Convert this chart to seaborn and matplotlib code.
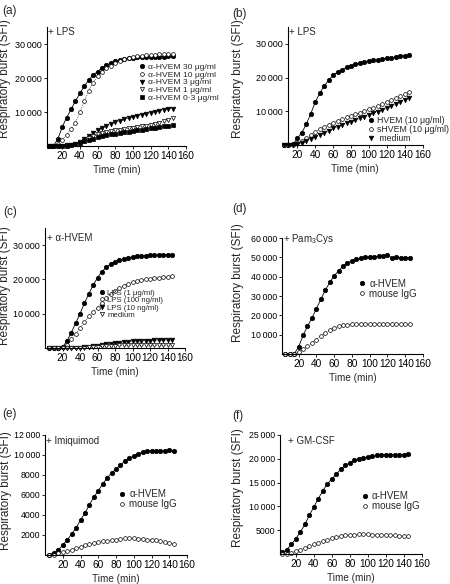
import matplotlib
matplotlib.use("Agg")
import matplotlib.pyplot as plt
import seaborn as sns
from matplotlib.ticker import FuncFormatter

# time points (min)
TIME = [5, 10, 15, 20, 25, 30, 35, 40, 45, 50, 55, 60, 65, 70, 75,
        80, 85, 90, 95, 100, 105, 110, 115, 120, 125, 130, 135, 140, 145]

# (a) + LPS, anti-HVEM titration
a_30 = [0, 0, 2000, 5600, 8300, 10800, 13200, 15500, 17600, 19400, 20900, 21900, 23000, 23800, 24400,
        24900, 25300, 25600, 25800, 26000, 26100, 26100, 26200, 26200, 26300, 26300, 26300, 26400, 26400]
a_10 = [0, 0, 500, 1800, 3300, 4900, 6900, 10000, 13200, 16200, 18600, 20600, 21900, 22800, 23600,
        24300, 25000, 25500, 25900, 26200, 26400, 26600, 26700, 26800, 26900, 27000, 27000, 27100, 27100]
a_3 = [0, 0, 0, 100, 200, 300, 700, 1300, 2100, 3000, 3900, 4700, 5400, 6000, 6500,
       7000, 7400, 7800, 8200, 8600, 8900, 9200, 9500, 9800, 10100, 10400, 10700, 10900, 11000]
a_1 = [0, 0, 0, 0, 100, 200, 500, 1000, 1600, 2300, 2900, 3400, 3800, 4100, 4400,
       4600, 4800, 5000, 5200, 5400, 5600, 5800, 6000, 6300, 6600, 6900, 7300, 7700, 8200]
a_03 = [0, 0, 0, 0, 100, 300, 600, 1000, 1400, 1800, 2200, 2600, 2900, 3200, 3400,
        3600, 3800, 4000, 4200, 4400, 4600, 4800, 5000, 5200, 5400, 5600, 5800, 6000, 6100]
a_labels = ["\u03b1-HVEM 30 \u03bcg/ml", "\u03b1-HVEM 10 \u03bcg/ml", "\u03b1-HVEM 3 \u03bcg/ml",
            "\u03b1-HVEM 1 \u03bcg/ml", "\u03b1-HVEM 0\u00b73 \u03bcg/ml"]

# (b) + LPS, HVEM vs sHVEM
b_hvem = [0, 0, 200, 2000, 3700, 6200, 9300, 12700, 15400, 17500, 19200, 20800, 21600, 22300, 23000,
          23500, 24000, 24300, 24600, 24900, 25100, 25300, 25500, 25700, 25900, 26100, 26300, 26500, 26700]
b_shvem = [0, 0, 0, 500, 1200, 2000, 3000, 3900, 4700, 5400, 6000, 6600, 7200, 7700, 8200,
           8700, 9200, 9600, 10100, 10600, 11100, 11600, 12100, 12700, 13300, 13900, 14500, 15000, 15600]
b_medium = [0, 0, 0, 200, 700, 1300, 1900, 2500, 3100, 3700, 4300, 4900, 5400, 5900, 6400,
            6900, 7400, 7900, 8400, 8900, 9400, 9900, 10500, 11000, 11600, 12200, 12800, 13300, 13900]
b_labels = ["HVEM (10 \u03bcg/ml)", "sHVEM (10 \u03bcg/ml)", " medium"]

# (c) + anti-HVEM, LPS titration
c_1ug = [0, 0, 100, 300, 2000, 4500, 7200, 10000, 13000, 15800, 18300, 20500, 22300, 23500, 24500,
         25200, 25700, 26000, 26300, 26500, 26700, 26800, 26900, 27000, 27000, 27100, 27100, 27200, 27200]
c_100ng = [0, 0, 0, 200, 1000, 2500, 4000, 5800, 7500, 9200, 10500, 11800, 13200, 14500, 15700,
           16700, 17500, 18200, 18800, 19200, 19500, 19800, 20000, 20200, 20400, 20500, 20700, 20800, 21000]
c_10ng = [0, 0, 0, 0, 0, 0, 0, 100, 200, 300, 500, 700, 900, 1100, 1300,
          1500, 1600, 1700, 1800, 1900, 2000, 2000, 2100, 2100, 2200, 2200, 2200, 2300, 2300]
c_medium = [0, 0, 0, 0, 0, 0, 0, 0, 100, 200, 300, 400, 500, 600, 700,
            700, 800, 800, 800, 800, 800, 800, 800, 800, 800, 800, 800, 800, 800]
c_labels = ["LPS (1 \u03bcg/ml)", "LPS (100 ng/ml)", "LPS (10 ng/ml)", "medium"]

# (d) + Pam3Cys
d_hvem = [0, 0, 0, 3700, 9600, 14300, 18700, 23500, 28200, 33000, 37000, 40500, 43000, 45500, 47000,
          48300, 49000, 49500, 50000, 50300, 50400, 50500, 50700, 51000, 49800, 50000, 49800, 49800, 49800]
d_igg = [0, 0, 0, 800, 2400, 4000, 5700, 7500, 9400, 10900, 12300, 13500, 14400, 14900, 15200,
         15400, 15500, 15600, 15600, 15600, 15600, 15600, 15700, 15700, 15600, 15600, 15500, 15400, 15300]

# (e) + Imiquimod
e_hvem = [50, 230, 500, 1000, 1500, 2100, 2700, 3500, 4200, 5000, 5800, 6400, 7100, 7700, 8200,
          8600, 9000, 9400, 9700, 9900, 10100, 10300, 10400, 10400, 10400, 10400, 10400, 10500, 10400]
e_igg = [0, 0, 200, 300, 400, 550, 700, 800, 1000, 1100, 1200, 1300, 1400, 1450, 1500,
         1550, 1600, 1700, 1700, 1700, 1650, 1600, 1550, 1500, 1500, 1400, 1300, 1250, 1100]

# (f) + GM-CSF
f_hvem = [350, 900, 2000, 3200, 4600, 6200, 8100, 9900, 11600, 13300, 14700, 15800, 16800, 17800, 18600,
          19200, 19700, 20000, 20200, 20400, 20600, 20700, 20800, 20800, 20900, 20900, 20900, 20900, 21000]
f_igg = [0, 100, 300, 600, 900, 1200, 1600, 2000, 2400, 2700, 3000, 3300, 3500, 3700, 3900,
         4000, 4050, 4100, 4100, 4100, 4050, 4000, 4000, 3950, 3900, 3900, 3850, 3800, 3700]
igg_labels = ["\u03b1-HVEM", "mouse IgG"]

X_TICKS = [20, 40, 60, 80, 100, 120, 140, 160]

sns.set_style("ticks")
plt.rcParams['font.family'] = ['Liberation Sans', 'DejaVu Sans']
plt.rcParams['mathtext.fontset'] = 'custom'
plt.rcParams['mathtext.rm'] = 'Liberation Sans'
plt.rcParams['mathtext.it'] = 'Liberation Sans'
plt.rcParams['axes.linewidth'] = 0.8
plt.rcParams['axes.edgecolor'] = 'black'

# marker styles
STY = {
    'fc': dict(marker='o', markersize=3.2, markerfacecolor='black', linestyle='-', linewidth=0.6),
    'oc': dict(marker='o', markersize=2.7, markerfacecolor='white', linestyle=':', linewidth=0.5),
    'ft': dict(marker='v', markersize=3.3, markerfacecolor='black', linestyle=':', linewidth=0.5),
    'ot': dict(marker='v', markersize=3.0, markerfacecolor='white', linestyle=':', linewidth=0.5),
    'fs': dict(marker='s', markersize=2.8, markerfacecolor='black', linestyle=':', linewidth=0.5),
}


def sfi_fmt(v, pos):
    n = int(round(v))
    if n >= 10000:
        return f"{n:,}".replace(",", "\u2009")
    return str(n)


def px_axes(fig, left, top, right, bottom):
    return fig.add_axes([left / 450, 1 - bottom / 584, (right - left) / 450, (bottom - top) / 584])


def draw_panel(ax, series, labels, styles, xlim, ylim, yticks, ytick_family, ytick_size,
               ylab_xy, tag, tag_xy, leg_xy, leg_size, leg_spacing):
    for vals, lab, st in zip(series, labels, styles):
        sns.lineplot(x=TIME, y=vals, ax=ax, color='black', markeredgecolor='black',
                     markeredgewidth=0.5, label=lab, clip_on=False, **STY[st])
    ax.set_xlim(*xlim)
    ax.set_ylim(*ylim)
    ax.set_xticks(X_TICKS)
    ax.set_yticks(yticks)
    ax.yaxis.set_major_formatter(FuncFormatter(sfi_fmt))
    ax.tick_params(direction='out', length=2, width=0.6, pad=1.5, colors='black')
    ax.tick_params(axis='x', labelsize=7.3)
    for t in ax.get_yticklabels():
        t.set_fontsize(ytick_size)
        t.set_family(ytick_family)
    sns.despine(ax=ax)
    ax.set_xlabel("Time (min)", fontsize=7.2, labelpad=3)
    ax.set_ylabel("Respiratory burst (SFI)", fontsize=8.5)
    ax.yaxis.set_label_coords(*ylab_xy)
    ax.text(tag_xy[0], tag_xy[1], tag, transform=ax.transAxes, fontsize=7, va='center', ha='left')
    leg = ax.legend(loc='upper left', bbox_to_anchor=leg_xy, frameon=False, fontsize=leg_size,
                    handlelength=0.6, handletextpad=0.4, borderpad=0, borderaxespad=0,
                    labelspacing=leg_spacing, numpoints=1)
    for h in leg.legend_handles:
        h.set_linestyle('None')


fig = plt.figure(figsize=(4.5, 5.84), dpi=100)
NARROW = ['Liberation Sans Narrow', 'Liberation Sans']
NORMAL = ['Liberation Sans', 'DejaVu Sans']

ax_a = px_axes(fig, 47, 27, 186, 146)
draw_panel(ax_a, [a_30, a_10, a_3, a_1, a_03], a_labels, ['fc', 'oc', 'ft', 'ot', 'fs'],
           (2.8, 160), (0, 35000), [10000, 20000, 30000], NARROW, 6.5,
           (-0.262, 0.565), "+ LPS", (0.01, 0.958), (0.665, 0.70), 6.1, 0.0)

ax_b = px_axes(fig, 288, 27, 422.5, 145)
draw_panel(ax_b, [b_hvem, b_shvem, b_medium], b_labels, ['fc', 'oc', 'ft'],
           (9.5, 160), (0, 35000), [10000, 20000, 30000], NARROW, 6.5,
           (-0.327, 0.564), "+ LPS", (0.01, 0.96), (0.60, 0.245), 6.3, 0.0)

ax_c = px_axes(fig, 45, 228, 185, 348)
draw_panel(ax_c, [c_1ug, c_100ng, c_10ng, c_medium], c_labels, ['fc', 'oc', 'ft', 'ot'],
           (0, 160), (0, 35000), [10000, 20000, 30000], NARROW, 6.5,
           (-0.243, 0.517), "+ \u03b1-HVEM", (0.012, 0.914), (0.39, 0.49), 5.6, 0.0)

ax_d = px_axes(fig, 282, 238, 423, 354)
draw_panel(ax_d, [d_hvem, d_igg], igg_labels, ['fc', 'oc'],
           (1.3, 160), (0, 60000), [10000, 20000, 30000, 40000, 50000, 60000], NORMAL, 6.3,
           (-0.27, 0.612), "+ Pam$_3$Cys", (0.01, 0.99), (0.55, 0.65), 7, 0.0)

ax_e = px_axes(fig, 45, 435, 187, 555)
draw_panel(ax_e, [e_hvem, e_igg], igg_labels, ['fc', 'oc'],
           (0, 160), (0, 12000), [2000, 4000, 6000, 8000, 10000, 12000], NORMAL, 6.3,
           (-0.232, 0.533), "+ Imiquimod", (0.01, 0.95), (0.525, 0.55), 7, 0.0)

ax_f = px_axes(fig, 280, 435, 422, 554)
draw_panel(ax_f, [f_hvem, f_igg], igg_labels, ['fc', 'oc'],
           (2.5, 160), (0, 25000), [5000, 10000, 15000, 20000, 25000], NORMAL, 6.3,
           (-0.254, 0.555), "+ GM-CSF", (0.054, 0.952), (0.577, 0.53), 7, 0.0)

# panel letters
for tag, x, y in [("(a)", 2, 5), ("(b)", 232, 8), ("(c)", 3, 206), ("(d)", 232, 203),
                  ("(e)", 2, 408), ("(f)", 232, 410)]:
    fig.text(x / 450, 1 - y / 584, tag, fontsize=8.5, va='top', ha='left')

fig.savefig("out.png", dpi=100)
